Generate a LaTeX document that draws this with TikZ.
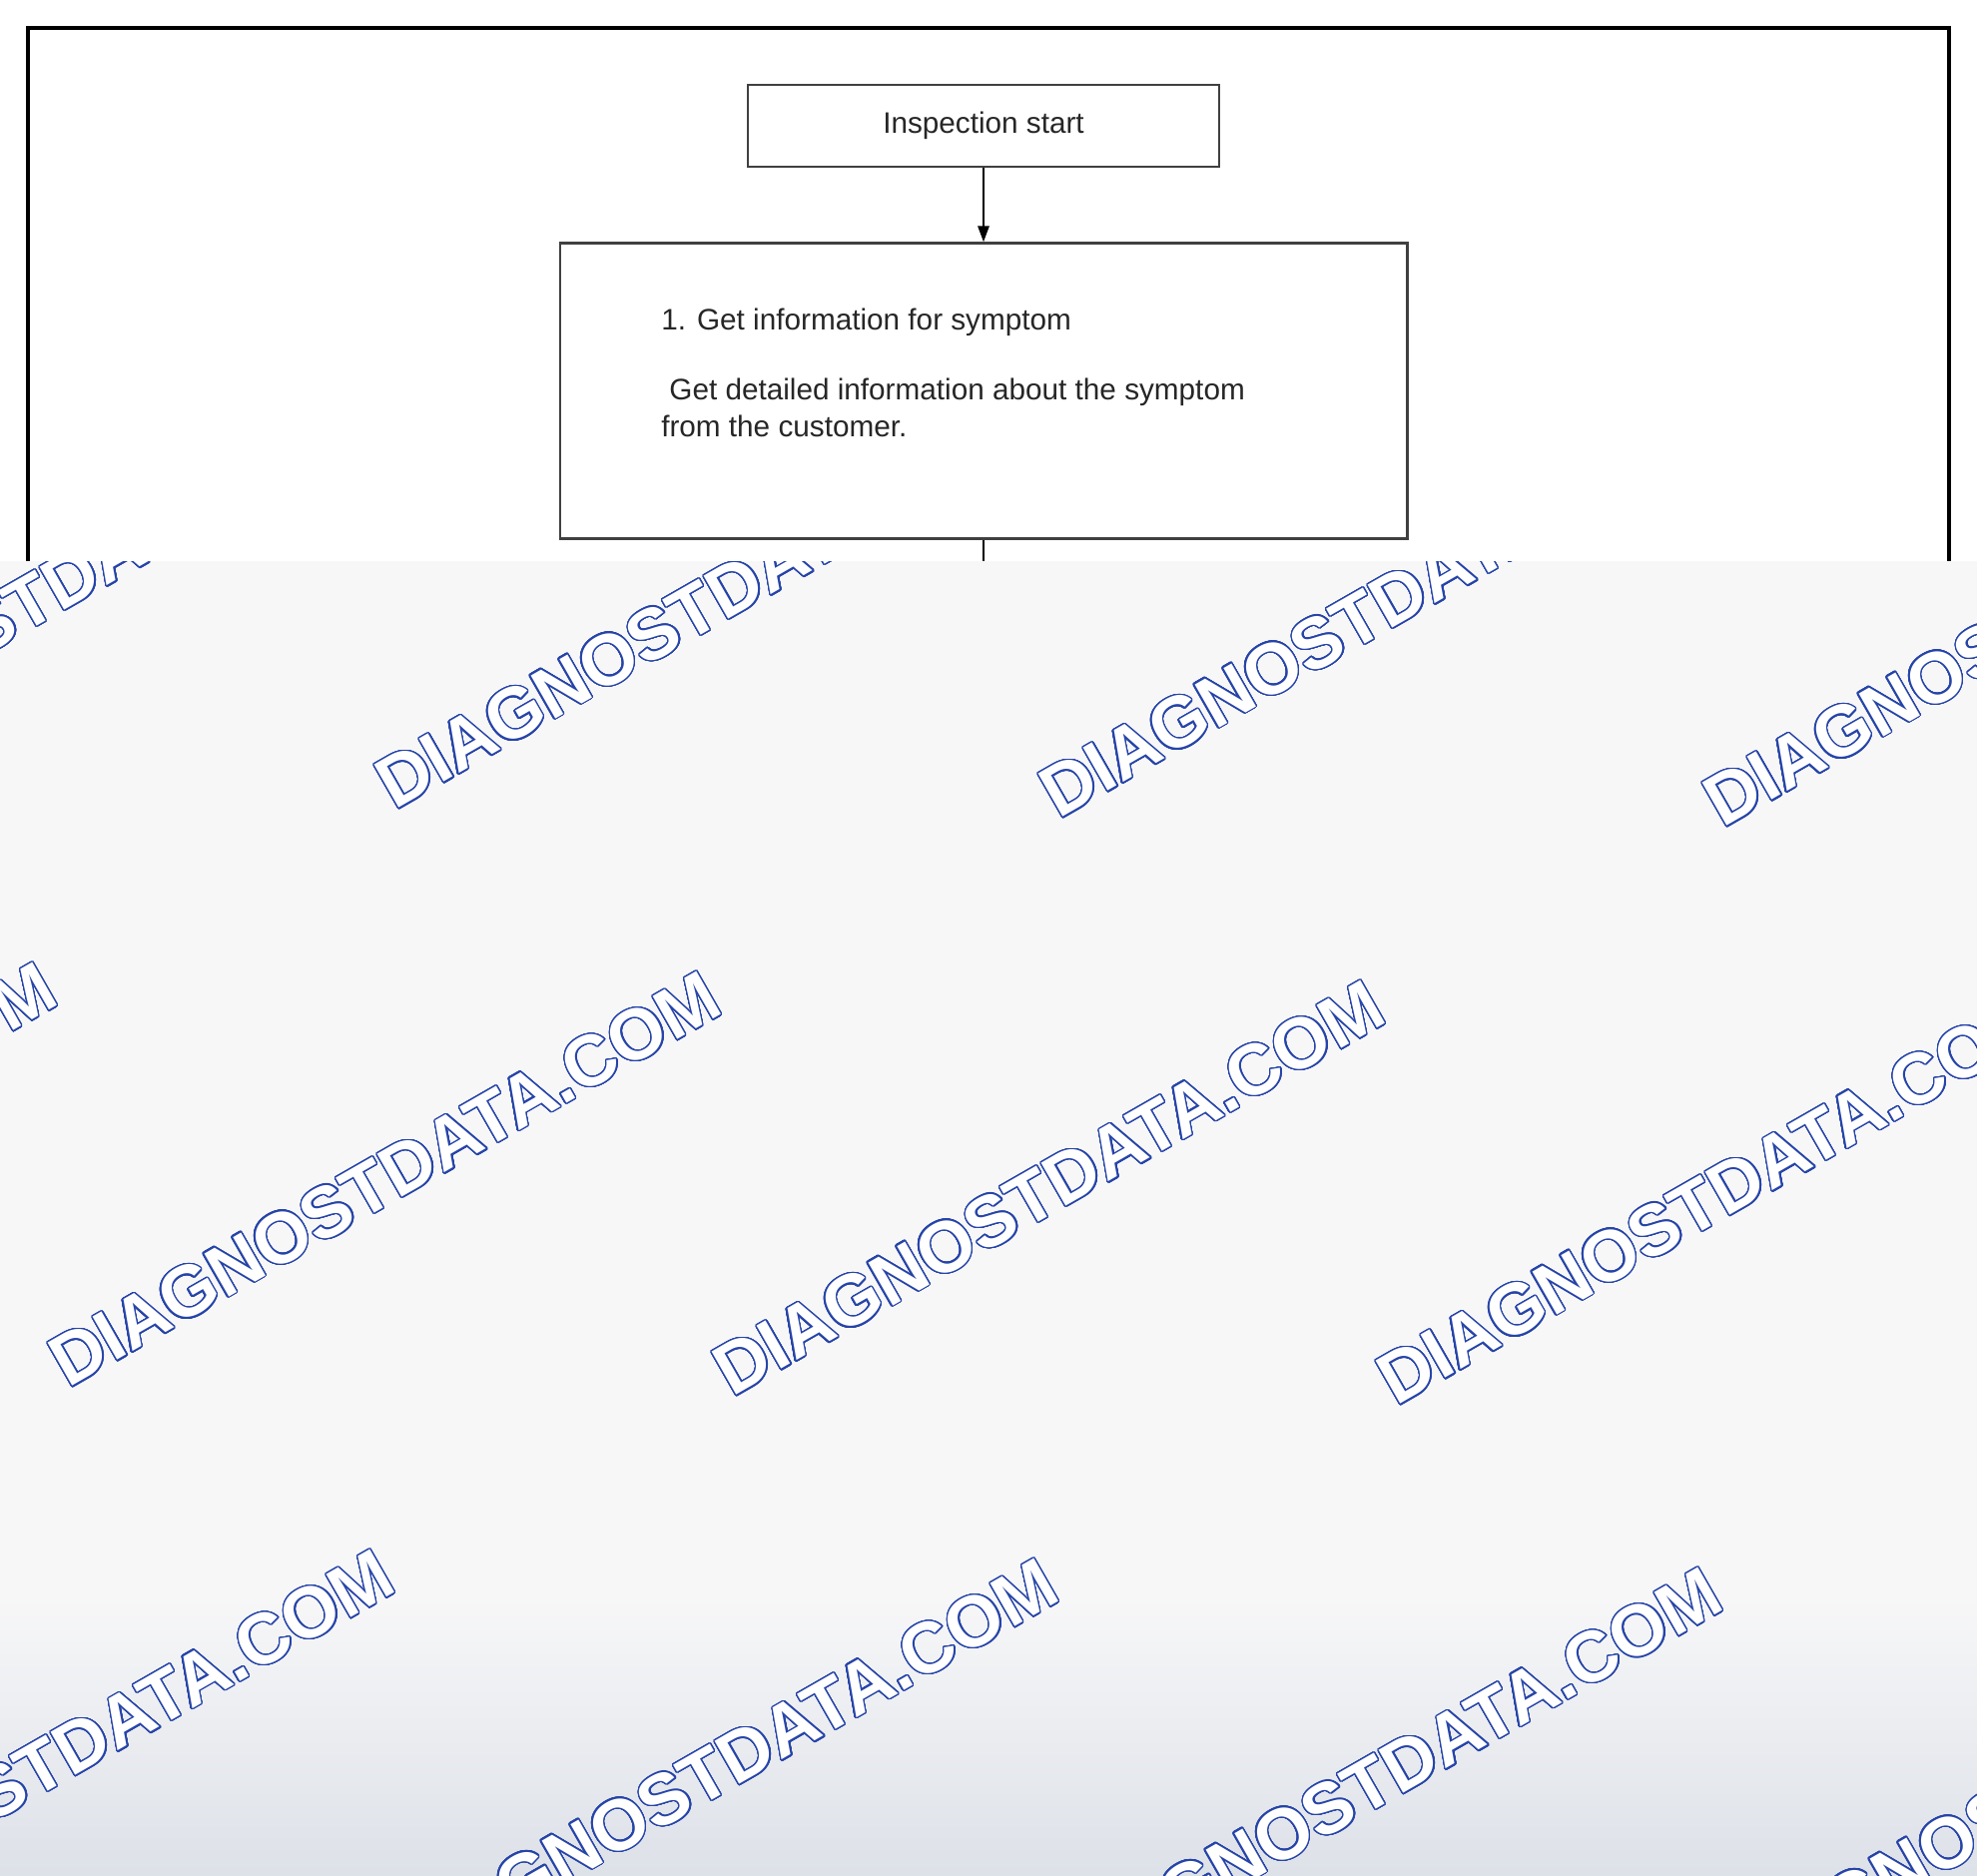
\documentclass[tikz,border=0pt]{standalone}
\usepackage{fontspec}
\setmainfont{Liberation Sans}
\usetikzlibrary{arrows.meta,positioning}
\usepackage{contour}
\contourlength{0.4pt}
\contournumber{32}
\definecolor{wmblue}{RGB}{38,68,168}
\definecolor{veil}{RGB}{247,247,248}
\definecolor{veildark}{RGB}{221,225,232}

\begin{document}
\begin{tikzpicture}[x=0.01cm,y=-0.01cm,node distance=0.74cm,
    stepbox/.style={draw=black!75,line width=0.7pt,rectangle,inner sep=0pt,
      font=\fontsize{8.45pt}{10.5pt}\selectfont,text=black!85},
    notetext/.style={inner sep=0pt,align=left,
      font=\fontsize{8.45pt}{10.5pt}\selectfont,text=black!85},
    watermark/.style={rotate=29.8,anchor=base west,inner sep=0pt,text=white,
      font=\fontsize{20.5pt}{24pt}\selectfont\bfseries}]
  \useasboundingbox (0,0) rectangle (1980,1878);
  \draw[line width=1.1pt] (28,562) -- (28,28) -- (1952,28) -- (1952,562);
  \node[stepbox,minimum width=4.72cm,minimum height=0.82cm] (start) at (985,126) {Inspection start};
  \node[stepbox,minimum width=8.48cm,minimum height=2.96cm,below=of start] (info) {};
  \node[notetext,below right=0.66cm and 1.02cm of info.north west] (infotext)
    {1. Get information for symptom\\[9.4pt]
     \hspace{2.3pt}Get detailed information about the symptom\\
     from the customer.};
  \coordinate (cut) at (985,562);
  \draw[-{Triangle[length=4.5pt,width=3.2pt]},line width=0.5pt] (start) -- (info);
  \draw[line width=0.5pt] (info) -- (cut);
  \begin{scope}
    \clip (0,562) rectangle (1980,1878);
    \fill[veil] (0,562) rectangle (1980,1878);
    \shade[top color=veil,bottom color=veildark] (0,1600) rectangle (1980,1878);
    \foreach \i in {-1,...,3}
      \foreach \j in {0,...,2}
        \node[watermark] at ({395+665*\i-327*\j},{812+9*\i+579*\j})
          {\contour{wmblue}{DIAGNOSTDATA.COM}};
  \end{scope}
\end{tikzpicture}
\end{document}
